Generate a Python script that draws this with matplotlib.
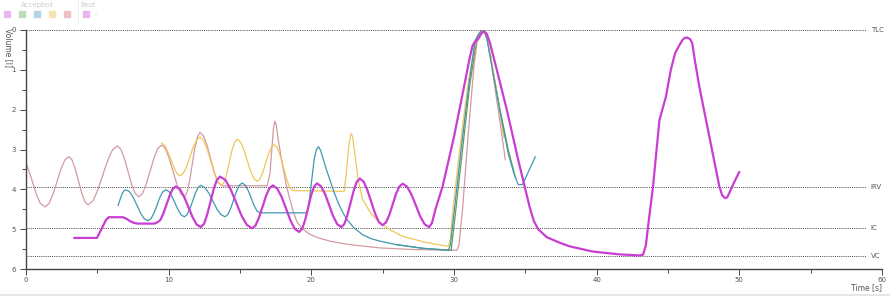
import matplotlib.pyplot as plt
from matplotlib.patches import Rectangle

# Volumen-Kurven (Zeit [s], Volumen [l])
pink_t = [0, 0.4, 0.75, 1.0, 1.33, 1.61, 1.89, 2.17, 2.44, 2.72, 3.0, 3.225, 3.45, 3.675, 3.9,
          4.125, 4.35, 4.69, 5.03, 5.375, 5.72, 6.06, 6.4, 6.65, 6.9, 7.15, 7.4, 7.65, 7.9,
          8.17, 8.43, 8.7, 8.97, 9.23, 9.5, 9.77, 10.03, 10.3, 10.57, 10.83, 11.1, 11.28, 11.47,
          11.65, 11.83, 12.02, 12.2, 12.45, 12.7, 12.95, 13.2, 13.45, 13.7, 16.9, 17.1, 17.25,
          17.35, 17.45, 17.55, 17.7, 18.0, 18.25, 18.5, 18.75, 19.0, 19.4, 19.9, 20.5, 21.3,
          22.2, 23.0, 24.8, 27.0, 30.2, 30.35, 30.6, 31.0, 31.4, 31.6, 31.85, 32.1, 32.3, 32.6,
          33.1, 33.6]
pink_v = [3.33, 3.75, 4.15, 4.35, 4.44, 4.356, 4.125, 3.81, 3.495, 3.264, 3.18, 3.261, 3.483,
          3.785, 4.088, 4.309, 4.39, 4.291, 4.02, 3.65, 3.28, 3.009, 2.91, 2.996, 3.23, 3.55,
          3.87, 4.104, 4.19, 4.103, 3.865, 3.54, 3.215, 2.977, 2.89, 2.977, 3.215, 3.54, 3.865,
          4.103, 4.19, 4.081, 3.785, 3.38, 2.975, 2.679, 2.57, 2.66, 2.905, 3.24, 3.575, 3.82,
          3.91, 3.91, 3.6, 2.9, 2.45, 2.29, 2.4, 2.8, 3.43, 3.9, 4.26, 4.58, 4.82, 5.0, 5.13,
          5.22, 5.3, 5.36, 5.4, 5.47, 5.51, 5.53, 5.4, 4.5, 2.6, 0.9, 0.33, 0.1, 0.02, 0.2, 0.8,
          2.0, 3.26]

yellow_t = [9.5, 9.72, 9.93, 10.15, 10.37, 10.58, 10.8, 11.03, 11.27, 11.5, 11.73, 11.97, 12.2,
            12.45, 12.7, 12.95, 13.2, 13.45, 13.7, 13.88, 14.07, 14.25, 14.43, 14.62, 14.8,
            15.03, 15.27, 15.5, 15.73, 15.97, 16.2, 16.4, 16.6, 16.8, 17.0, 17.2, 17.4, 17.62,
            17.83, 18.05, 18.27, 18.48, 18.7, 22.3, 22.45, 22.6, 22.72, 22.8, 22.9, 23.05, 23.3,
            23.6, 24.2, 24.8, 25.6, 26.4, 28.0, 29.2, 29.6, 29.75, 29.9, 30.4, 31.0, 31.4, 31.6,
            31.85, 32.1, 32.3, 32.6, 33.1, 33.5]
yellow_v = [2.84, 2.895, 3.045, 3.25, 3.455, 3.605, 3.66, 3.595, 3.418, 3.175, 2.933, 2.755, 2.69,
            2.771, 2.993, 3.295, 3.598, 3.819, 3.9, 3.822, 3.61, 3.32, 3.03, 2.818, 2.74,
            2.811, 3.005, 3.27, 3.535, 3.729, 3.8, 3.738, 3.57, 3.34, 3.11, 2.942, 2.88, 2.957,
            3.168, 3.455, 3.743, 3.955, 4.03, 4.05, 3.6, 3.0, 2.7, 2.6, 2.7, 3.1, 3.8,
            4.26, 4.62, 4.84, 5.03, 5.18, 5.33, 5.41, 5.43, 5.25, 4.6, 3.0, 1.3, 0.5, 0.17,
            0.04, 0.0, 0.2, 0.7, 1.8, 2.7]

teal_t = [6.45, 6.6, 6.75, 6.88, 7.0, 7.26, 7.52, 7.78, 8.03, 8.29, 8.55, 8.76, 8.97, 9.18, 9.38,
          9.59, 9.8, 10.02, 10.23, 10.45, 10.67, 10.88, 11.1, 11.29, 11.48, 11.68, 11.87, 12.06,
          12.25, 12.53, 12.82, 13.1, 13.38, 13.67, 13.95, 14.15, 14.35, 14.55, 14.75, 14.95,
          15.15, 15.36, 15.57, 15.78, 15.98, 16.19, 16.4, 19.7, 19.85, 20.0, 20.2, 20.35, 20.5,
          20.65, 20.8, 21.05, 21.3, 21.6, 21.9, 22.2, 22.5, 23.0, 23.6, 24.2, 24.8, 26.0, 27.8,
          29.6, 29.75, 30.0, 30.5, 31.0, 31.3, 31.5, 31.8, 32.1, 32.3, 32.6, 33.2, 33.8, 34.2,
          34.5, 34.8, 35.7]
teal_v = [4.41, 4.25, 4.1, 4.03, 4.01, 4.062, 4.205, 4.4, 4.595, 4.738, 4.79, 4.738, 4.595, 4.4,
          4.205, 4.062, 4.01, 4.056, 4.18, 4.35, 4.52, 4.644, 4.69, 4.637, 4.493, 4.295, 4.098,
          3.953, 3.9, 3.953, 4.098, 4.295, 4.493, 4.637, 4.69, 4.633, 4.478, 4.265, 4.053, 3.897,
          3.84, 3.89, 4.028, 4.215, 4.403, 4.54, 4.59, 4.59, 4.3, 3.85, 3.25, 3.0, 2.93,
          3.02, 3.2, 3.5, 3.76, 4.08, 4.35, 4.58, 4.76, 4.97, 5.14, 5.24, 5.3, 5.39, 5.48,
          5.53, 5.4, 4.6, 3.0, 1.5, 0.7, 0.25, 0.06, 0.0, 0.2, 0.8, 2.0, 3.1, 3.6,
          3.88, 3.88, 3.18]

green_t = [26.0, 27.8, 29.8, 30.1, 30.6, 31.1, 31.6, 31.85, 32.1, 32.3, 32.6, 33.2, 33.8, 34.3]
green_v = [5.39, 5.48, 5.53, 4.6, 3.0, 1.4, 0.2, 0.05, 0.0, 0.2, 0.75, 1.95, 3.0, 3.7]

best_t = [3.37, 4.97, 5.15, 5.4, 5.6, 5.8, 6.8, 7.05, 7.3, 7.55, 7.8, 9.0, 9.2, 9.42, 9.63, 9.85,
          10.07, 10.28, 10.5, 10.79, 11.08, 11.38, 11.67, 11.96, 12.25, 12.48, 12.7, 12.93,
          13.15, 13.38, 13.6, 13.98, 14.35, 14.73, 15.1, 15.48, 15.85, 16.09, 16.33, 16.58,
          16.82, 17.06, 17.3, 17.61, 17.92, 18.23, 18.53, 18.84, 19.15, 19.36, 19.57, 19.78,
          19.98, 20.19, 20.4, 20.68, 20.97, 21.25, 21.53, 21.82, 22.1, 22.32, 22.53, 22.75,
          22.97, 23.18, 23.4, 23.67, 23.93, 24.2, 24.47, 24.73, 25.0, 25.23, 25.47, 25.7, 25.93,
          26.17, 26.4, 26.71, 27.02, 27.33, 27.63, 27.94, 28.25, 28.45, 28.7, 29.2, 30.0, 30.7,
          31.1, 31.3, 31.45, 31.7, 31.9, 32.1, 32.3, 32.5, 33.0, 33.7, 34.5, 35.3, 35.6, 35.9,
          36.5, 37.4, 38.1, 39.7, 41.5, 43.0, 43.25, 43.45, 43.6, 43.95, 44.4, 44.85, 45.2,
          45.5, 45.8, 46.0, 46.15, 46.35, 46.55, 46.7, 46.9, 47.2, 47.9, 48.6, 48.8, 49.0,
          49.15, 49.3, 49.6, 50.0]
best_v = [5.22, 5.22, 5.1, 4.92, 4.77, 4.7, 4.7, 4.74, 4.8, 4.84, 4.86, 4.86, 4.83, 4.77, 4.605,
          4.38, 4.155, 3.99, 3.93, 3.998, 4.185, 4.44, 4.695, 4.882, 4.95, 4.865, 4.633, 4.315,
          3.998, 3.765, 3.68, 3.767, 4.005, 4.33, 4.655, 4.893, 4.98, 4.908, 4.71, 4.44,
          4.17, 3.972, 3.9, 3.978, 4.193, 4.485, 4.778, 4.992, 5.07, 4.988, 4.765, 4.46,
          4.155, 3.932, 3.85, 3.924, 4.125, 4.4, 4.675, 4.876, 4.95, 4.868, 4.645, 4.34,
          4.035, 3.812, 3.73, 3.808, 4.023, 4.315, 4.608, 4.822, 4.9, 4.83, 4.64, 4.38, 4.12,
          3.93, 3.86, 3.933, 4.133, 4.405, 4.678, 4.877, 4.95, 4.85, 4.5, 3.93, 2.68, 1.43,
          0.7, 0.4, 0.3, 0.22, 0.1, 0.03, 0.1, 0.3, 1.0, 2.0, 3.26, 4.44, 4.8, 5.0,
          5.2, 5.34, 5.43, 5.56, 5.63, 5.66, 5.64, 5.4, 4.94, 3.93, 2.26, 1.68, 1.0,
          0.58, 0.38, 0.26, 0.2, 0.19, 0.23, 0.33, 0.8, 1.43, 2.68, 3.93, 4.15, 4.22,
          4.2, 4.09, 3.85, 3.56]

ref_names = ['TLC', 'IRV', 'IC', 'VC']
ref_vals = [0.0, 3.94, 4.97, 5.68]

legend_cols = ['#e9b8ef', '#bcdcbc', '#b4d4ea', '#f6e4b4', '#efc0c4']

fig = plt.figure(figsize=(8.9, 2.96), dpi=100)
ax = fig.add_axes([26 / 890, 1 - 269 / 296, 856 / 890, 239 / 296])

txt = '#555555'
for v in ref_vals:
    ax.plot([0, 58.9], [v, v], color='#444444', lw=0.7, ls=(0, (1, 1.2)), zorder=1)
for n, v in zip(ref_names, ref_vals):
    ax.text(59.2, v, n, fontsize=5, color=txt, va='center', ha='left', clip_on=False)

kw = dict(solid_joinstyle='round', solid_capstyle='round')
ax.plot(pink_t, pink_v, color='#d39aa0', lw=0.9, zorder=2, **kw)
ax.plot(green_t, green_v, color='#6a9a58', lw=0.9, zorder=2, **kw)
ax.plot(yellow_t, yellow_v, color='#f0c65a', lw=0.9, zorder=3, **kw)
ax.plot(teal_t, teal_v, color='#3f98b2', lw=0.9, zorder=3, **kw)
ax.plot(best_t, best_v, color='#c93dd2', lw=1.6, zorder=4, **kw)

ax.set_xlim(0, 60)
ax.set_ylim(6, 0)
ax.set_xticks(range(0, 61, 10))
ax.set_xticks(range(5, 60, 10), minor=True)
ax.set_yticks(range(0, 7))
ax.set_yticks([0.5 + i for i in range(6)], minor=True)
for s in ['top', 'right']:
    ax.spines[s].set_visible(False)
for s in ['left', 'bottom']:
    ax.spines[s].set_color('#444444')
    ax.spines[s].set_linewidth(1.0)
ax.tick_params(which='both', colors='#444444', labelcolor=txt, labelsize=5, length=4, width=0.7)
ax.tick_params(which='minor', length=3)
ax.tick_params(axis='x', pad=2)

fig.text(8 / 890, 1 - 28 / 296, 'Volume [l]', rotation=270, fontsize=5.5, color=txt,
         ha='center', va='top')
fig.text(882 / 890, 1 - 288 / 296, 'Time [s]', fontsize=5.5, color=txt, ha='right', va='center')

# verblasste Legende oben links
fig.text(37 / 890, 1 - 5 / 296, 'Accepted', fontsize=5, color='#cccccc', ha='center', va='center')
fig.text(88 / 890, 1 - 5 / 296, 'Best', fontsize=5, color='#cccccc', ha='center', va='center')
for i, c in enumerate(legend_cols):
    fig.patches.append(Rectangle(((4 + 15 * i) / 890, 1 - 17 / 296), 6 / 890, 6 / 296,
                                 color=c, transform=fig.transFigure, figure=fig))
fig.patches.append(Rectangle((83 / 890, 1 - 17 / 296), 6 / 890, 6 / 296,
                             color='#eab4ee', transform=fig.transFigure, figure=fig))
fig.text(96 / 890, 1 - 14 / 296, '-', fontsize=5, color='#cccccc', ha='center', va='center')
fig.lines.append(plt.Line2D([78 / 890, 78 / 890], [1 - 1 / 296, 1 - 22 / 296],
                            color='#eeeeee', lw=0.7, transform=fig.transFigure))
fig.lines.append(plt.Line2D([0, 1], [1.5 / 296, 1.5 / 296], color='#e6e6e6', lw=1.5,
                            transform=fig.transFigure))

fig.savefig('out.png', dpi=100)
